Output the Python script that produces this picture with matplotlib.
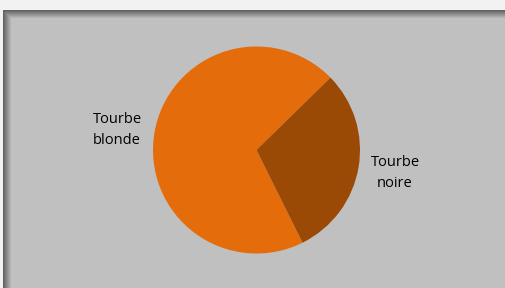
import matplotlib
matplotlib.use("Agg")
import matplotlib.pyplot as plt
from matplotlib.patches import Rectangle
import numpy as np

categories = ["Tourbe blonde", "Tourbe noire"]
values = [70, 30]
colors = ["#e46c0a", "#9b4a06"]
label_texts = ["Tourbe\nblonde", "Tourbe\nnoire"]

W, H = 505, 288
fig = plt.figure(figsize=(W / 100, H / 100), dpi=100)
fig.patch.set_facecolor("#f2f2f2")

# gray panel with shadow on left/top
bg = fig.add_axes([0, 0, 1, 1])
bg.set_xlim(0, W)
bg.set_ylim(H, 0)
bg.axis("off")
bg.add_patch(Rectangle((3, 10), W, H, facecolor="#c0c0c0", edgecolor="none"))
shadow_steps = 8
for i in range(shadow_steps):
    t = i / shadow_steps
    g = 0.38 + (0.753 - 0.38) * t
    c = (g, g, g)
    bg.add_patch(Rectangle((3 + i, 10 + i), 1, H, facecolor=c, edgecolor="none"))
    bg.add_patch(Rectangle((3 + i, 10 + i), W, 1, facecolor=c, edgecolor="none"))

# pie axes: center (256.5,150), radius 103.5
cx, cy, r = 256.5, 150, 103.5
ax = fig.add_axes([(cx - r) / W, 1 - (cy + r) / H, 2 * r / W, 2 * r / H])
ax.pie(values, colors=colors, startangle=-63.6, counterclock=False,
       wedgeprops=dict(linewidth=0))
ax.set_aspect("auto")
ax.set_xlim(-1, 1)
ax.set_ylim(-1, 1)

font = ["Open Sans", "DejaVu Sans"]
bg.text(117, 130, label_texts[0], ha="center", va="center", fontsize=10.5,
        family=font, color="#000000", linespacing=1.5)
bg.text(395, 173, label_texts[1], ha="center", va="center", fontsize=10.5,
        family=font, color="#000000", linespacing=1.5)

fig.savefig("out.png", dpi=100, facecolor=fig.get_facecolor())
